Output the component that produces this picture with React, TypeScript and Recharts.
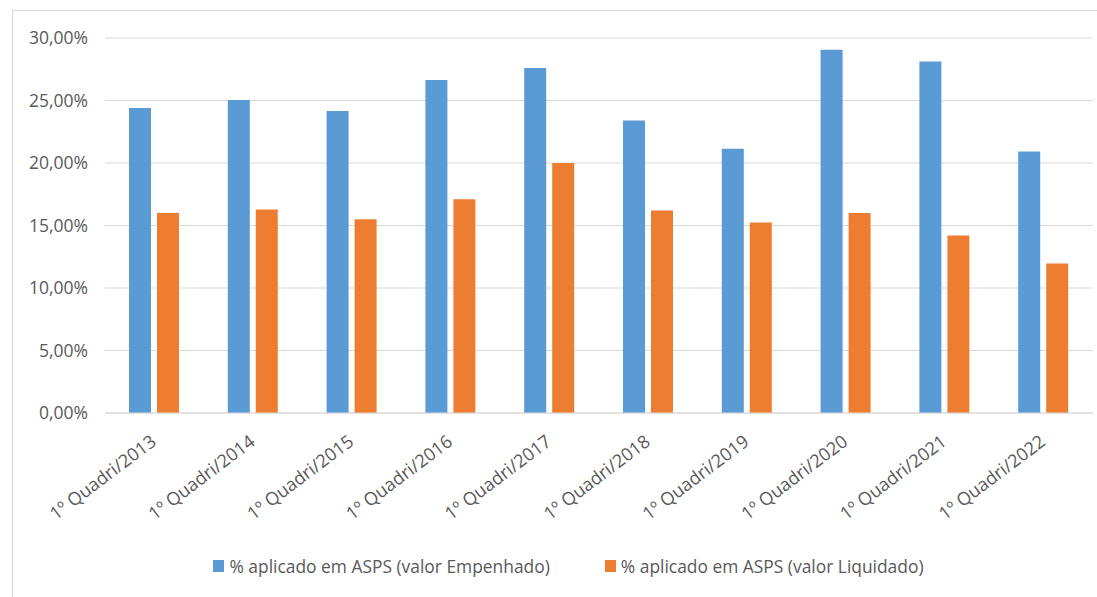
import React from "react";
import { BarChart, Bar, XAxis, YAxis, CartesianGrid, Legend } from "recharts";

const categorias = [
  "1º Quadri/2013",
  "1º Quadri/2014",
  "1º Quadri/2015",
  "1º Quadri/2016",
  "1º Quadri/2017",
  "1º Quadri/2018",
  "1º Quadri/2019",
  "1º Quadri/2020",
  "1º Quadri/2021",
  "1º Quadri/2022",
];
const empenhado = [24.4, 25.04, 24.16, 26.64, 27.6, 23.4, 21.15, 29.07, 28.13, 20.93];
const liquidado = [16.0, 16.28, 15.5, 17.1, 20.0, 16.2, 15.25, 16.0, 14.2, 11.97];
const ticksY = [0, 5, 10, 15, 20, 25, 30];

const NOME_EMP = "% aplicado em ASPS (valor Empenhado)";
const NOME_LIQ = "% aplicado em ASPS (valor Liquidado)";
const AZUL = "#5B9BD5";
const LARANJA = "#ED7D31";
const TEXTO = "#595959";
const FONTE = "'Open Sans', sans-serif";

const dados = categorias.map((c, i) => ({
  periodo: c,
  emp: empenhado[i],
  liq: liquidado[i],
}));

const formatPct = (v: number) => `${v.toFixed(2).replace(".", ",")}%`;

function TickX({ x, y, payload }: any) {
  return (
    <g transform={`translate(${x + 3},${y + 31})`}>
      <text
        x={0}
        y={0}
        textAnchor="end"
        fill={TEXTO}
        fontSize={18}
        fontFamily={FONTE}
        transform="rotate(-37)"
      >
        {payload.value}
      </text>
    </g>
  );
}

function Legenda() {
  const itens = [
    { nome: NOME_EMP, cor: AZUL },
    { nome: NOME_LIQ, cor: LARANJA },
  ];
  return (
    <div
      style={{
        display: "flex",
        justifyContent: "center",
        gap: 55,
        paddingLeft: 44,
        fontFamily: FONTE,
        fontSize: 17.4,
        color: TEXTO,
        lineHeight: "30px",
      }}
    >
      {itens.map((it) => (
        <span key={it.nome} style={{ display: "flex", alignItems: "center" }}>
          <span
            style={{
              display: "inline-block",
              width: 11,
              height: 12,
              background: it.cor,
              marginRight: 5,
            }}
          />
          {it.nome}
        </span>
      ))}
    </div>
  );
}

export default function App() {
  return (
    <div
      style={{
        position: "absolute",
        left: 0,
        top: 0,
        width: 1097,
        height: 597,
        background: "#fff",
        overflow: "hidden",
      }}
    >
      <div
        style={{
          position: "absolute",
          left: 12,
          top: 10,
          width: 1200,
          height: 700,
          borderLeft: "1px solid #D9D9D9",
          borderTop: "1px solid #D9D9D9",
        }}
      />
      <BarChart
        width={1097}
        height={597}
        data={dados}
        margin={{ top: 38, right: 4, bottom: 16, left: 0 }}
        barSize={22}
        barGap={6}
      >
        <CartesianGrid vertical={false} stroke="#D9D9D9" />
        <XAxis
          dataKey="periodo"
          height={138}
          interval={0}
          tickLine={false}
          tickSize={0}
          tickMargin={0}
          axisLine={{ stroke: "#D9D9D9" }}
          tick={<TickX />}
        />
        <YAxis
          width={105}
          domain={[0, 30]}
          ticks={ticksY}
          tickFormatter={formatPct}
          axisLine={false}
          tickLine={false}
          tickSize={0}
          tickMargin={17}
          tick={{ fill: TEXTO, fontSize: 17.5, fontFamily: FONTE }}
        />
        <Legend
          verticalAlign="bottom"
          wrapperStyle={{ height: 30 }}
          content={<Legenda />}
        />
        <Bar dataKey="emp" name={NOME_EMP} fill={AZUL} isAnimationActive={false} />
        <Bar dataKey="liq" name={NOME_LIQ} fill={LARANJA} isAnimationActive={false} />
      </BarChart>
    </div>
  );
}
